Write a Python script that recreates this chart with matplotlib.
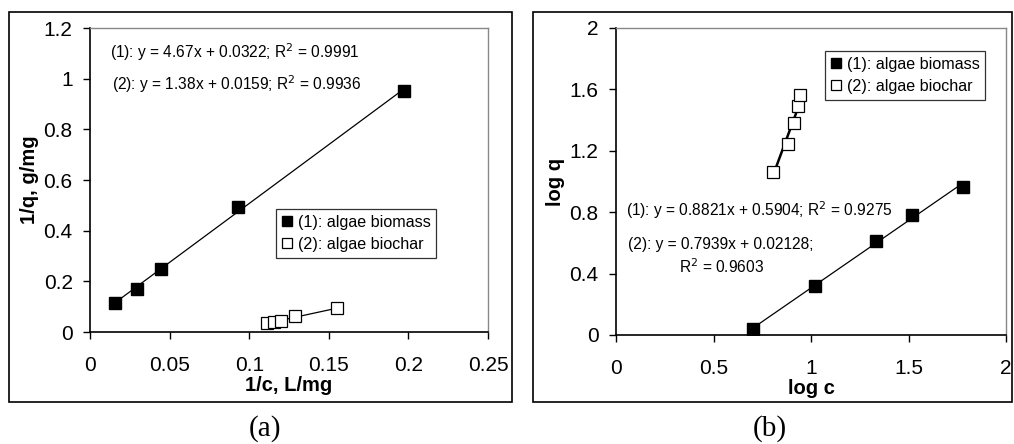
import matplotlib.pyplot as plt
import numpy as np
from matplotlib.patches import Rectangle

# (a) Langmuir: 1/c vs 1/q
inv_c_biomass = [0.0157, 0.0295, 0.0446, 0.093, 0.197]
inv_q_biomass = [0.114, 0.170, 0.249, 0.494, 0.951]
inv_c_biochar = [0.111, 0.1156, 0.120, 0.129, 0.155]
inv_q_biochar = [0.035, 0.038, 0.045, 0.062, 0.093]

# (b) Freundlich: log c vs log q
log_c_biomass = [0.701, 1.02, 1.335, 1.518, 1.778]
log_q_biomass = [0.037, 0.319, 0.614, 0.782, 0.966]
log_c_biochar = [0.803, 0.882, 0.915, 0.933, 0.945]
log_q_biochar = [1.064, 1.244, 1.381, 1.492, 1.565]

labels = ['(1): algae biomass', '(2): algae biochar']

plt.rcParams['font.family'] = ['Liberation Sans', 'DejaVu Sans']

fig = plt.figure(figsize=(10.14, 4.44), dpi=100)
W, H = 1014, 444


def box(x0, y0, x1, y1):
    fig.patches.append(Rectangle((x0 / W, 1 - y1 / H), (x1 - x0) / W, (y1 - y0) / H,
                                 transform=fig.transFigure, fill=False,
                                 edgecolor='black', linewidth=1.2))


def trend(ax, x, y, lw):
    k, b = np.polyfit(x, y, 1)
    xs = np.array([min(x), max(x)])
    ax.plot(xs, k * xs + b, color='black', linewidth=lw, zorder=2)


def style(ax):
    for s in ['top', 'right']:
        ax.spines[s].set_color('#888888')
        ax.spines[s].set_linewidth(1.0)
    for s in ['left', 'bottom']:
        ax.spines[s].set_linewidth(1.2)
    ax.tick_params(direction='out', length=5, width=1, labelsize=15)
    ax.tick_params(axis='x', pad=12)
    ax.tick_params(axis='y', pad=7.5)


box(9, 12, 512, 402)
box(533, 12, 1012, 402)

# panel (a)
ax1 = fig.add_axes([90 / W, 1 - 332 / H, (488 - 90) / W, (332 - 28) / H])
trend(ax1, inv_c_biomass, inv_q_biomass, 0.9)
trend(ax1, inv_c_biochar, inv_q_biochar, 0.9)
ax1.plot(inv_c_biomass, inv_q_biomass, 's', color='black', markersize=9, linestyle='none', label=labels[0], zorder=3)
ax1.plot(inv_c_biochar, inv_q_biochar, 's', markerfacecolor='white', markeredgecolor='black', markeredgewidth=0.9,
         markersize=8.5, linestyle='none', label=labels[1], zorder=3)
ax1.set_xlim(0, 0.25)
ax1.set_ylim(0, 1.2)
ax1.set_xticks([0, 0.05, 0.1, 0.15, 0.2, 0.25])
ax1.set_xticklabels(['0', '0.05', '0.1', '0.15', '0.2', '0.25'])
ax1.set_yticks([0, 0.2, 0.4, 0.6, 0.8, 1, 1.2])
ax1.set_yticklabels(['0', '0.2', '0.4', '0.6', '0.8', '1', '1.2'])
ax1.set_xlabel('1/c, L/mg', fontsize=14.5, fontweight='bold', labelpad=1)
ax1.set_ylabel('1/q, g/mg', fontsize=14.5, fontweight='bold', labelpad=3)
style(ax1)
ax1.text(110 / W, 1 - 52 / H, '(1): y = 4.67x + 0.0322; R$^2$ = 0.9991', transform=fig.transFigure,
         fontsize=11.2, va='center')
ax1.text(112 / W, 1 - 84 / H, '(2): y = 1.38x + 0.0159; R$^2$ = 0.9936', transform=fig.transFigure,
         fontsize=11.2, va='center')
leg1 = ax1.legend(loc='upper left', bbox_to_anchor=((276 - 90) / 398, (332 - 209) / 304), fontsize=11.6,
                  frameon=True, fancybox=False, edgecolor='black', handlelength=0.7, handletextpad=0.3,
                  borderpad=0.35, labelspacing=0.45, borderaxespad=0, markerscale=0.8)
leg1.get_frame().set_linewidth(0.9)

# panel (b)
ax2 = fig.add_axes([616 / W, 1 - 335 / H, (1006 - 616) / W, (335 - 28) / H])
trend(ax2, log_c_biomass, log_q_biomass, 0.9)
trend(ax2, log_c_biochar, log_q_biochar, 1.8)
ax2.plot(log_c_biomass, log_q_biomass, 's', color='black', markersize=9, linestyle='none', label=labels[0], zorder=3)
ax2.plot(log_c_biochar, log_q_biochar, 's', markerfacecolor='white', markeredgecolor='black', markeredgewidth=0.9,
         markersize=8.5, linestyle='none', label=labels[1], zorder=3)
ax2.set_xlim(0, 2)
ax2.set_ylim(0, 2)
ax2.set_xticks([0, 0.5, 1, 1.5, 2])
ax2.set_xticklabels(['0', '0.5', '1', '1.5', '2'])
ax2.set_yticks([0, 0.4, 0.8, 1.2, 1.6, 2])
ax2.set_yticklabels(['0', '0.4', '0.8', '1.2', '1.6', '2'])
ax2.set_xlabel('log c', fontsize=14.5, fontweight='bold', labelpad=1)
ax2.set_ylabel('log q', fontsize=14.5, fontweight='bold', labelpad=3)
style(ax2)
ax2.text(626 / W, 1 - 210 / H, '(1): y = 0.8821x + 0.5904; R$^2$ = 0.9275', transform=fig.transFigure,
         fontsize=11.2, va='center')
ax2.text(628 / W, 1 - 244 / H, '(2): y = 0.7939x + 0.02128;', transform=fig.transFigure,
         fontsize=11.2, va='center')
ax2.text(679 / W, 1 - 267 / H, 'R$^2$ = 0.9603', transform=fig.transFigure,
         fontsize=11.2, va='center')
leg2 = ax2.legend(loc='upper left', bbox_to_anchor=((825 - 616) / 390, (335 - 51) / 307), fontsize=11.6,
                  frameon=True, fancybox=False, edgecolor='black', handlelength=0.7, handletextpad=0.3,
                  borderpad=0.35, labelspacing=0.45, borderaxespad=0, markerscale=0.8)
leg2.get_frame().set_linewidth(0.9)

fig.text(265 / W, 1 - 429 / H, '(a)', fontsize=21, family='Liberation Serif', ha='center', va='center')
fig.text(770 / W, 1 - 429 / H, '(b)', fontsize=21, family='Liberation Serif', ha='center', va='center')

fig.savefig('out.png', dpi=100)
